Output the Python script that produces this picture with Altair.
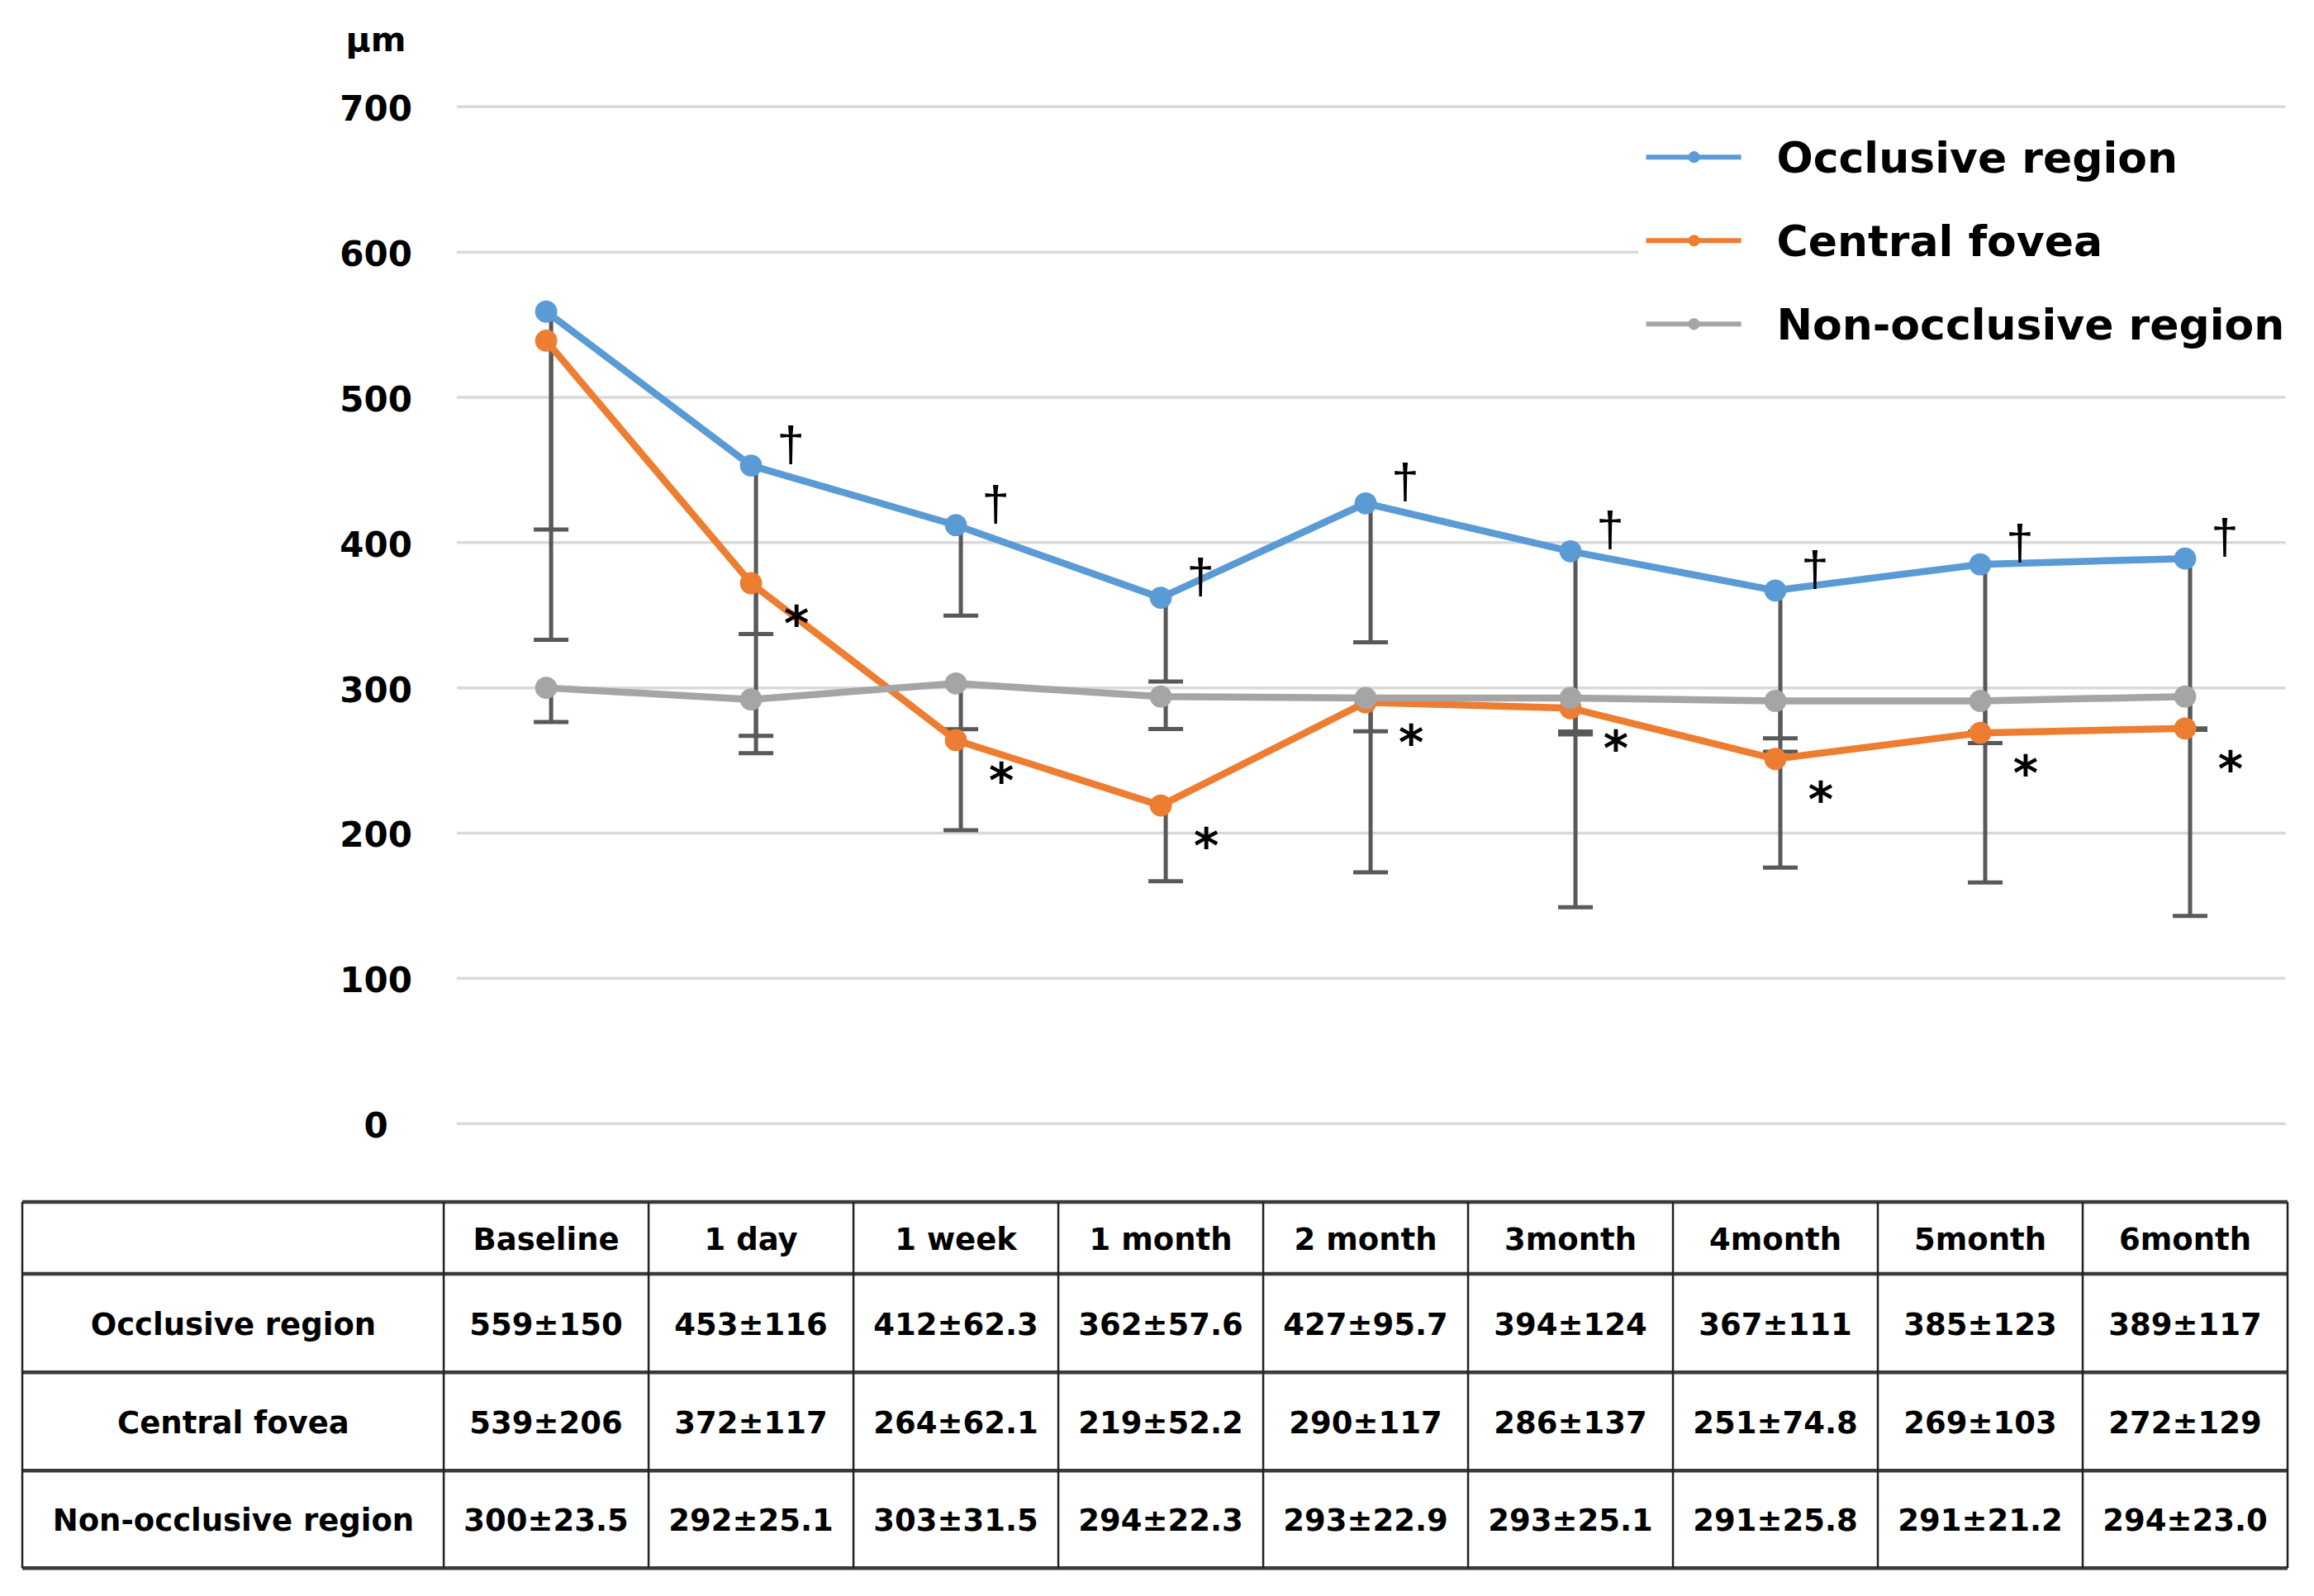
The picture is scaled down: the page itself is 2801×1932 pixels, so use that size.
import altair as alt
import pandas as pd

# ---------------- data ----------------
periods = ["Baseline", "1 day", "1 week", "1 month", "2 month",
           "3month", "4month", "5month", "6month"]
series = ["Occlusive region", "Central fovea", "Non-occlusive region"]
colors = ["#5B9BD5", "#ED7D31", "#A5A5A5"]

occl_mean = [559, 453, 412, 362, 427, 394, 367, 385, 389]
occl_sd = [150, 116, 62.3, 57.6, 95.7, 124, 111, 123, 117]
fov_mean = [539, 372, 264, 219, 290, 286, 251, 269, 272]
fov_sd = [206, 117, 62.1, 52.2, 117, 137, 74.8, 103, 129]
non_mean = [300, 292, 303, 294, 293, 293, 291, 291, 294]
non_sd = [23.5, 25.1, 31.5, 22.3, 22.9, 25.1, 25.8, 21.2, 23.0]

y_ticks = [0, 100, 200, 300, 400, 500, 600, 700]
dagger_points = [1, 2, 3, 4, 5, 6, 7, 8]   # occlusive region, significant
star_points = [1, 2, 3, 4, 5, 6, 7, 8]     # central fovea, significant

# ---------------- layout constants ----------------
FONT = "DejaVu Sans"
X_MIN, X_MAX = -2.557, 8.5
Y_MIN, Y_MAX = -315, 765
xs = alt.Scale(domain=[X_MIN, X_MAX], nice=False, zero=False)
ys = alt.Scale(domain=[Y_MIN, Y_MAX], nice=False, zero=False)

GRID_X0, GRID_X1 = -0.4357, 8.49
TICK_X = -0.831
TABLE_LABEL_X = -1.527
TABLE_H = [-54.0, -103.5, -171.2, -238.9, -306.0]
TABLE_V = [X_MIN] + [i - 0.5 for i in range(len(periods) + 1)]
HEADER_Y = (TABLE_H[0] + TABLE_H[1]) / 2
ROW_Y = [(TABLE_H[i + 1] + TABLE_H[i + 2]) / 2 for i in range(3)]


def xf(field):
    return alt.X(field, type="quantitative", scale=xs, axis=None)


def yf(field):
    return alt.Y(field, type="quantitative", scale=ys, axis=None)


def xd(v):
    return alt.XDatum(v, scale=xs, axis=None)


def yd(v):
    return alt.YDatum(v, scale=ys, axis=None)


# ---------------- frames ----------------
means = [occl_mean, fov_mean, non_mean]
sds = [occl_sd, fov_sd, non_sd]
rows = []
for si, s in enumerate(series):
    for i, p in enumerate(periods):
        m, sd = means[si][i], sds[si][i]
        rows.append({"series": s, "si": si, "xi": i, "period": p,
                     "mean": m, "sd": sd, "low": m - sd,
                     "cell": f"{m}\u00b1{sd}", "rowy": ROW_Y[si],
                     "dagger": int(si == 0 and i in dagger_points),
                     "star": int(si == 1 and i in star_points)})
df = pd.DataFrame(rows)

grid_df = pd.DataFrame({"v": y_ticks, "label": [str(t) for t in y_ticks]})

# background
grid = alt.Chart(grid_df).mark_rule(color="#d9d9d9", strokeWidth=3.5).encode(
    x=xd(GRID_X0), x2=alt.X2Datum(GRID_X1), y=yf("v"))

tick_labels = alt.Chart(grid_df).mark_text(
    font=FONT, fontWeight="bold", fontSize=42, align="center",
    baseline="middle", dy=4, color="black").encode(
    x=xd(TICK_X), y=yf("v"), text="label:N")

unit_label = alt.Chart(pd.DataFrame({"t": ["\u03bcm"]})).mark_text(
    font=FONT, fontWeight="bold", fontSize=41, align="center",
    baseline="alphabetic", color="black").encode(
    x=xd(TICK_X), y=yd(738), text="t:N")

legend_bg = alt.Chart(pd.DataFrame({"a": [0]})).mark_rect(color="white").encode(
    x=xd(5.33), x2=alt.X2Datum(8.5), y=yd(690), y2=alt.Y2Datum(508))

# error bars (minus SD)
err = alt.Chart(df).mark_rule(color="#595959", strokeWidth=5, xOffset=6).encode(
    x=xf("xi"), y=yf("mean"), y2=alt.Y2("low"))
caps = alt.Chart(df).mark_tick(color="#595959", orient="horizontal", size=42,
                               thickness=5, xOffset=6, opacity=1).encode(
    x=xf("xi"), y=yf("low"))

series_layers = []
for si, s in enumerate(series):
    sub = alt.Chart(df).transform_filter(f"datum.si == {si}")
    series_layers.append(sub.mark_line(color=colors[si], strokeWidth=8.5).encode(
        x=xf("xi"), y=yf("mean")))
    series_layers.append(sub.mark_circle(color=colors[si], size=720, opacity=1).encode(
        x=xf("xi"), y=yf("mean")))

dagger = alt.Chart(df).transform_filter("datum.dagger == 1").mark_text(
    text="\u2020", font="Liberation Sans", fontSize=60, color="black",
    align="center", baseline="middle", dx=48, dy=-24).encode(
    x=xf("xi"), y=yf("mean"))

star = alt.Chart(df).transform_filter("datum.star == 1").mark_text(
    text="*", font=FONT, fontWeight="bold", fontSize=58, color="black",
    align="center", baseline="middle", dx=55, dy=52).encode(
    x=xf("xi"), y=yf("mean"))

# legend (drawn manually)
leg_df = pd.DataFrame({"series": series, "color": colors,
                       "ly": [665.4 - 57.5 * i for i in range(len(series))]})
leg_line = alt.Chart(leg_df).mark_rule(strokeWidth=6).encode(
    x=xd(5.369), x2=alt.X2Datum(5.833), y=yf("ly"),
    color=alt.Color("color:N", scale=None))
leg_dot = alt.Chart(leg_df).mark_circle(size=200, opacity=1).encode(
    x=xd(5.603), y=yf("ly"), color=alt.Color("color:N", scale=None))
leg_text = alt.Chart(leg_df).mark_text(
    font=FONT, fontWeight="bold", fontSize=52, align="left", baseline="middle",
    dy=3, color="black").encode(x=xd(6.006), y=yf("ly"), text="series:N")

# table
hl = alt.Chart(pd.DataFrame({"v": TABLE_H})).mark_rule(
    color="#3a3a3a", strokeWidth=4.5).encode(
    x=xd(X_MIN), x2=alt.X2Datum(X_MAX), y=yf("v"))
vl = alt.Chart(pd.DataFrame({"xv": TABLE_V})).mark_rule(
    color="#222222", strokeWidth=2.5).encode(
    x=xf("xv"), y=yd(TABLE_H[0]), y2=alt.Y2Datum(TABLE_H[-1]))
head_df = pd.DataFrame({"period": periods, "xi": list(range(len(periods)))})
head = alt.Chart(head_df).mark_text(
    font=FONT, fontWeight="bold", fontSize=37, align="center", baseline="middle",
    dy=3, color="black").encode(x=xf("xi"), y=yd(HEADER_Y), text="period:N")
rowlab_df = pd.DataFrame({"series": series, "rowy": ROW_Y})
rowlab = alt.Chart(rowlab_df).mark_text(
    font=FONT, fontWeight="bold", fontSize=37, align="center", baseline="middle",
    dy=3, color="black").encode(x=xd(TABLE_LABEL_X), y=yf("rowy"), text="series:N")
cells = alt.Chart(df).mark_text(
    font=FONT, fontWeight="bold", fontSize=37, align="center", baseline="middle",
    dy=3, color="black").encode(x=xf("xi"), y=yf("rowy"), text="cell:N")

chart = alt.layer(
    grid, legend_bg, tick_labels, unit_label, err, caps, *series_layers,
    dagger, star, leg_line, leg_dot, leg_text, hl, vl, head, rowlab, cells
).properties(
    width=2742, height=1899,
    autosize=alt.AutoSizeParams(type="none"),
    padding={"left": 19, "top": 7, "right": 20, "bottom": 10},
    background="white",
).configure_view(stroke=None)

chart.save("out.html", embed_options={"renderer": "svg", "actions": False})
